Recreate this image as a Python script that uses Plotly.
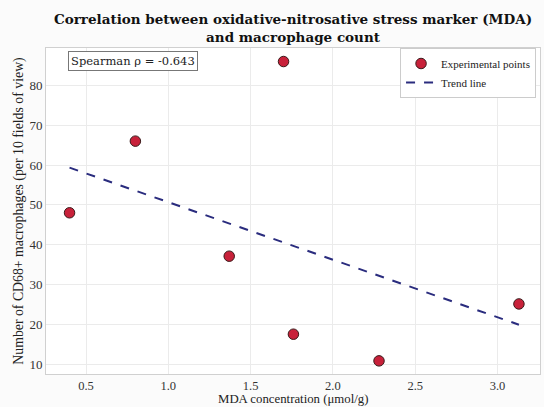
import numpy as np
import plotly.graph_objects as go

# Data
mda = [0.40, 0.80, 1.37, 1.70, 1.76, 2.28, 3.13]
macrophages = [48.0, 66.0, 37.1, 86.0, 17.5, 10.8, 25.1]
spearman_rho = -0.643

x_ticks = [0.5, 1.0, 1.5, 2.0, 2.5, 3.0]
y_ticks = [10, 20, 30, 40, 50, 60, 70, 80]

slope, intercept = np.polyfit(mda, macrophages, 1)
x_fit = [min(mda), max(mda)]
y_fit = [slope * v + intercept for v in x_fit]

serif = "Liberation Serif, Times New Roman, serif"
dserif = "DejaVu Serif, serif"

fig = go.Figure()
fig.add_trace(go.Scatter(
    x=mda, y=macrophages, mode="markers", name="Experimental points",
    marker=dict(size=10.5, color="#c8213a", line=dict(color="#3a1a1a", width=1)),
))
fig.add_trace(go.Scatter(
    x=x_fit, y=y_fit, mode="lines", name="Trend line",
    line=dict(color="#2a2c7e", width=2, dash="dash"),
))

fig.update_layout(
    width=544, height=407,
    margin=dict(l=46, r=4, t=48, b=33, autoexpand=False),
    paper_bgcolor="#fbfbfb", plot_bgcolor="white",
    font=dict(family=serif, size=13, color="#333"),
    xaxis=dict(
        range=[0.257, 3.258], tickvals=x_ticks, ticktext=[f"{v:.1f}" for v in x_ticks],
        showgrid=True, gridcolor="#ebebeb", gridwidth=1,
        showline=True, linecolor="#d0d0d0", mirror=True, zeroline=False,
        ticks="", automargin=False,
        tickfont=dict(family=serif, size=12.5, color="#333"),
    ),
    yaxis=dict(
        range=[7.5, 89.4], tickvals=y_ticks,
        showgrid=True, gridcolor="#ebebeb", gridwidth=1,
        showline=True, linecolor="#d0d0d0", mirror=True, zeroline=False,
        ticks="", automargin=False,
        title=dict(text="Number of CD68+ macrophages (per 10 fields of view)", font=dict(family=serif, size=13.8, color="#222"), standoff=2),
        tickfont=dict(family=serif, size=13, color="#333"),
    ),
    legend=dict(
        x=0.992, y=1.0, xanchor="right", yanchor="top",
        bgcolor="white", bordercolor="#cccccc", borderwidth=1,
        font=dict(family=serif, size=11, color="#222"),
        itemwidth=30, tracegroupgap=0,
    ),
    showlegend=True,
)

# Title
fig.add_annotation(
    xref="paper", yref="paper", x=0.5, y=1.004, xanchor="center", yanchor="bottom",
    text="<b>Correlation between oxidative-nitrosative stress marker (MDA)<br>and macrophage count</b>",
    showarrow=False, font=dict(family=dserif, size=13.5, color="#111"),
)

# X axis title
fig.add_annotation(
    xref="paper", yref="paper", x=0.5, y=-0.077, xanchor="center", yanchor="middle",
    text="MDA concentration (μmol/g)", showarrow=False, borderpad=0,
    font=dict(family=serif, size=12.8, color="#222"),
)

fig.add_annotation(
    xref="paper", yref="paper", x=0.045, y=0.991, xanchor="left", yanchor="top",
    text=f"Spearman ρ = {spearman_rho:.3f}", showarrow=False,
    font=dict(family=dserif, size=11.5, color="#222"),
    bgcolor="white", bordercolor="#777", borderwidth=1, borderpad=2,
)

fig.write_html(
    "out.html",
    config={"displayModeBar": False},
    post_script="document.body.style.margin='0';document.body.style.overflow='hidden';",
)
